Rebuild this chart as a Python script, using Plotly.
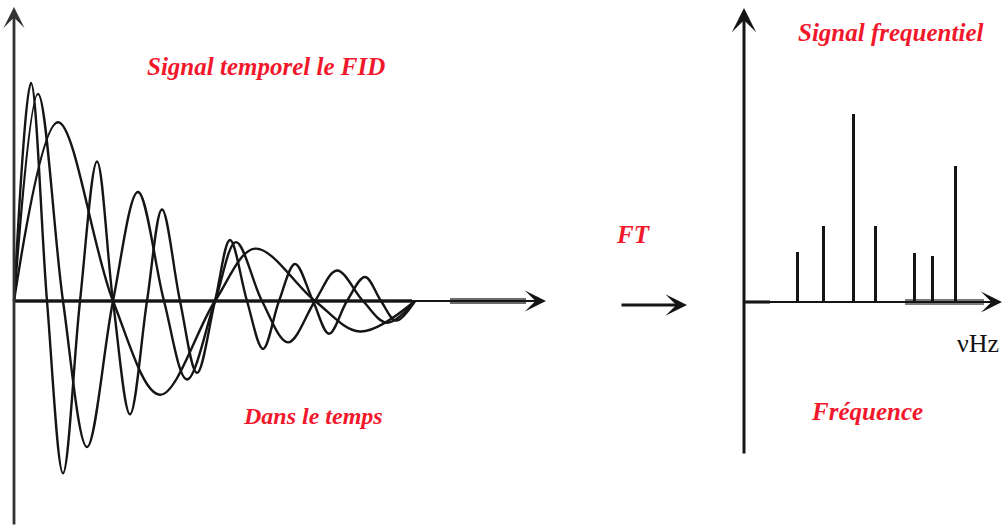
import plotly.graph_objects as go

W, H = 1005, 530

# ---------------------------------------------------------------
# FID (time domain): three decaying components, given at their
# zero crossings and extrema; time in arbitrary units, amplitude
# normalised to the first maximum of the fastest component
# ---------------------------------------------------------------
t_fast = [0.00, 0.17, 0.33, 0.49, 0.66, 0.83, 0.99, 1.16, 1.33, 1.48, 1.66, 1.83,
          2.01, 2.16, 2.33, 2.49, 2.65, 2.81, 2.99, 3.15, 3.33, 3.51, 3.67, 3.82, 4.01]
a_fast = [0.00, 1.00, 0.00, -0.79, 0.00, 0.64, 0.00, -0.52, 0.00, 0.42, 0.00, -0.33,
          0.00, 0.28, 0.00, -0.22, 0.00, 0.17, 0.00, -0.15, 0.00, 0.11, 0.00, -0.09, 0.00]

t_mid = [0.00, 0.24, 0.49, 0.73, 0.99, 1.24, 1.50, 1.73, 2.01, 2.22, 2.48, 2.74,
         3.01, 3.23, 3.49, 3.73, 4.01]
a_mid = [0.00, 0.95, 0.00, -0.67, 0.00, 0.50, 0.00, -0.36, 0.00, 0.27, 0.00, -0.19,
         0.00, 0.14, 0.00, -0.10, 0.00]

t_slow = [0.00, 0.44, 0.99, 1.46, 2.01, 2.41, 3.01, 3.46, 4.01]
a_slow = [0.00, 0.82, 0.00, -0.43, 0.00, 0.24, 0.00, -0.14, 0.00]

# ---------------------------------------------------------------
# Spectrum (frequency domain): line positions and relative heights
# ---------------------------------------------------------------
nu_lines = [2.69, 3.97, 5.47, 6.59, 8.52, 9.42, 10.60]
intensity = [26.6, 40.4, 100.0, 40.4, 26.0, 24.5, 72.3]

# ---------------------------------------------------------------
# layout geometry (pixels of the 1005 x 530 canvas)
# ---------------------------------------------------------------
# left panel: origin pixel, pixels per unit
L_X0, L_Y0, L_SX, L_SY = 14, 301, 100.0, 218.0
L_DOM = (0.0, 0.60)
# right panel
R_X0, R_Y0, R_SX, R_SY = 744, 302, 20.0, 1.88
R_DOM = (0.65, 1.0)


def x_range(dom, x0, sx):
    p0, p1 = dom[0] * W, dom[1] * W
    return [(p0 - x0) / sx, (p1 - x0) / sx]


def y_range(y0, sy):
    return [(y0 - H) / sy, y0 / sy]


def lx(px):  # left-panel time from a pixel column
    return (px - L_X0) / L_SX


def ly(py):  # left-panel amplitude from a pixel row
    return (L_Y0 - py) / L_SY


def rx(px):
    return (px - R_X0) / R_SX


def ry(py):
    return (R_Y0 - py) / R_SY


INK = "#151515"
RED = "#f2182c"

fig = go.Figure()

for t, a in [(t_slow, a_slow), (t_mid, a_mid), (t_fast, a_fast)]:
    fig.add_trace(go.Scatter(
        x=t, y=a, mode="lines",
        line=dict(color=INK, width=2.4, shape="spline", smoothing=1.0),
        xaxis="x", yaxis="y", hoverinfo="skip",
    ))

fig.add_trace(go.Bar(
    x=nu_lines, y=intensity, width=0.15,
    marker=dict(color=INK, line=dict(width=0)),
    xaxis="x2", yaxis="y2", hoverinfo="skip",
))

hidden = dict(visible=False, fixedrange=True)
fig.update_layout(
    width=W, height=H,
    margin=dict(l=0, r=0, t=0, b=0, pad=0),
    paper_bgcolor="white", plot_bgcolor="white",
    showlegend=False, hovermode=False, bargap=0,
    xaxis=dict(domain=list(L_DOM), range=x_range(L_DOM, L_X0, L_SX), **hidden),
    yaxis=dict(domain=[0, 1], range=y_range(L_Y0, L_SY), **hidden),
    xaxis2=dict(domain=list(R_DOM), range=x_range(R_DOM, R_X0, R_SX),
                anchor="y2", **hidden),
    yaxis2=dict(domain=[0, 1], range=y_range(R_Y0, R_SY), anchor="x2", **hidden),
)

# heavier grey stretches along the horizontal axes
fig.add_shape(type="line", xref="x", yref="y", x0=0, x1=lx(412), y0=0, y1=0,
              line=dict(color="#5a5a5a", width=4), layer="below")
fig.add_shape(type="line", xref="x", yref="y", x0=lx(450), x1=lx(526), y0=0, y1=0,
              line=dict(color="#6a6a6a", width=6), layer="below")
fig.add_shape(type="line", xref="x2", yref="y2", x0=rx(905), x1=rx(984), y0=0, y1=0,
              line=dict(color="#7a7a7a", width=6), layer="below")
fig.add_shape(type="line", xref="x2", yref="y2", x0=rx(744), x1=rx(770), y0=0, y1=0,
              line=dict(color="#555555", width=3.5), layer="below")


def arrow(xref, yref, x_tail, y_tail, x_head, y_head, width, size, color=INK):
    fig.add_annotation(
        xref=xref, yref=yref, axref=xref, ayref=yref,
        x=x_head, y=y_head, ax=x_tail, ay=y_tail, text="",
        showarrow=True, arrowhead=3, arrowwidth=width, arrowsize=size,
        arrowcolor=color, standoff=0, startstandoff=0,
    )


# axes of the time-domain panel
arrow("x", "y", 0, ly(526), 0, ly(7), 2.8, 1.25, color="#333333")
arrow("x", "y", 0, 0, lx(546), 0, 2.2, 1.6)
# axes of the frequency-domain panel
arrow("x2", "y2", 0, ry(455), 0, ry(8), 3.0, 1.35)
arrow("x2", "y2", 0, 0, rx(1002), 0, 2.2, 1.6)

# FT arrow between the two panels
fig.add_annotation(
    xref="paper", yref="paper", x=687 / W, y=1 - 305 / H,
    axref="pixel", ayref="pixel", ax=-67, ay=0, text="",
    showarrow=True, arrowhead=3, arrowwidth=3, arrowsize=1.2,
    arrowcolor=INK, standoff=0,
)


def label(txt, cx, cy, size=25, color=RED, italic=True, bold=True):
    if bold:
        txt = f"<b>{txt}</b>"
    if italic:
        txt = f"<i>{txt}</i>"
    fig.add_annotation(
        xref="paper", yref="paper", x=cx / W, y=1 - cy / H,
        xanchor="center", yanchor="middle", showarrow=False, text=txt,
        font=dict(family="Liberation Serif", size=size, color=color),
    )


label("Signal temporel le FID", 266, 67)
label("Dans le temps", 313, 416, size=24)
label("FT", 633, 234, size=25)
label("Signal frequentiel", 890, 33)
label("Fréquence", 867, 411)
label("νHz", 978, 343, size=26, color="#111111", italic=False, bold=False)

fig.write_html("out.html")
